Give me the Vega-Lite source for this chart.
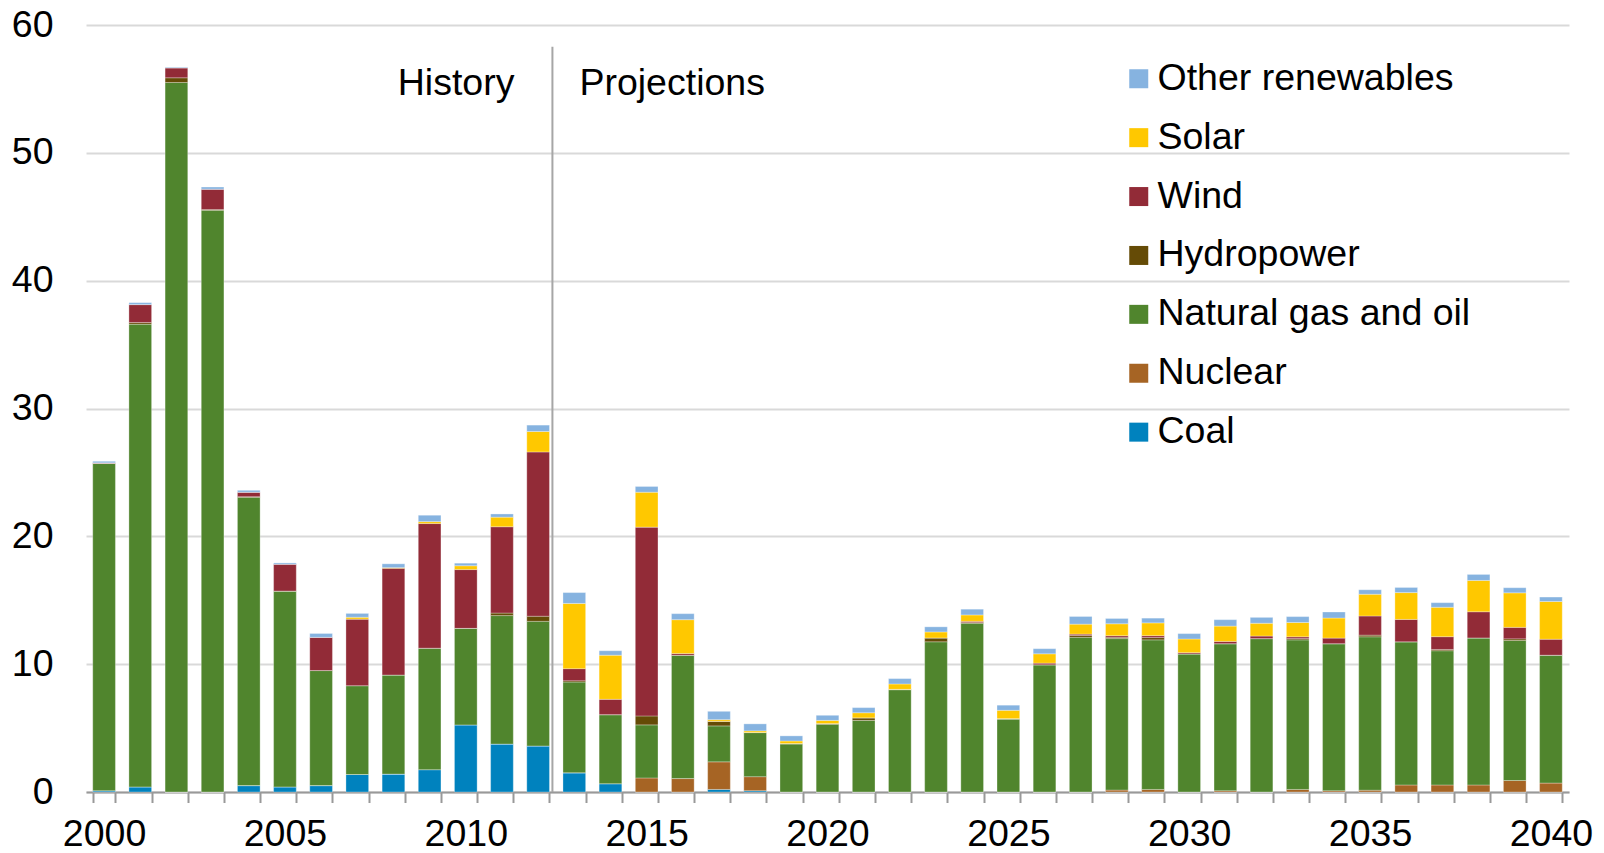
{
  "$schema": "https://vega.github.io/schema/vega-lite/v6.json",
  "width": 1483,
  "height": 767,
  "autosize": {"type": "none"},
  "padding": {"left": 86, "top": 25, "right": 35, "bottom": 61},
  "background": "#ffffff",
  "config": {
    "font": "Liberation Sans",
    "view": {"stroke": null},
    "axis": {"labelColor": "#000000", "labelFontSize": 37.5, "labelFont": "Liberation Sans"}
  },
  "datasets": {
    "gen": [
      {"year": 2000, "coal": 0.1, "nuclear": 0, "gas": 25.6, "hydro": 0, "wind": 0.05, "solar": 0, "other": 0.12},
      {"year": 2001, "coal": 0.4, "nuclear": 0, "gas": 36.2, "hydro": 0.13, "wind": 1.4, "solar": 0, "other": 0.15},
      {"year": 2002, "coal": 0, "nuclear": 0, "gas": 55.5, "hydro": 0.37, "wind": 0.78, "solar": 0, "other": 0.05},
      {"year": 2003, "coal": 0, "nuclear": 0, "gas": 45.5, "hydro": 0.06, "wind": 1.6, "solar": 0, "other": 0.16},
      {"year": 2004, "coal": 0.5, "nuclear": 0, "gas": 22.55, "hydro": 0.05, "wind": 0.35, "solar": 0, "other": 0.15},
      {"year": 2005, "coal": 0.4, "nuclear": 0, "gas": 15.3, "hydro": 0.02, "wind": 2.1, "solar": 0, "other": 0.1},
      {"year": 2006, "coal": 0.5, "nuclear": 0, "gas": 9.0, "hydro": 0, "wind": 2.6, "solar": 0, "other": 0.3},
      {"year": 2007, "coal": 1.37, "nuclear": 0, "gas": 6.95, "hydro": 0, "wind": 5.2, "solar": 0.15, "other": 0.3},
      {"year": 2008, "coal": 1.4, "nuclear": 0, "gas": 7.75, "hydro": 0, "wind": 8.35, "solar": 0.05, "other": 0.3},
      {"year": 2009, "coal": 1.75, "nuclear": 0, "gas": 9.5, "hydro": 0, "wind": 9.75, "solar": 0.15, "other": 0.5},
      {"year": 2010, "coal": 5.25, "nuclear": 0, "gas": 7.55, "hydro": 0, "wind": 4.6, "solar": 0.3, "other": 0.2},
      {"year": 2011, "coal": 3.75, "nuclear": 0, "gas": 10.05, "hydro": 0.2, "wind": 6.75, "solar": 0.75, "other": 0.25},
      {"year": 2012, "coal": 3.6, "nuclear": 0, "gas": 9.75, "hydro": 0.4, "wind": 12.85, "solar": 1.6, "other": 0.5},
      {"year": 2013, "coal": 1.5, "nuclear": 0, "gas": 7.1, "hydro": 0.1, "wind": 0.95, "solar": 5.1, "other": 0.85},
      {"year": 2014, "coal": 0.65, "nuclear": 0, "gas": 5.4, "hydro": 0, "wind": 1.2, "solar": 3.45, "other": 0.35},
      {"year": 2015, "coal": 0, "nuclear": 1.1, "gas": 4.15, "hydro": 0.7, "wind": 14.77, "solar": 2.73, "other": 0.45},
      {"year": 2016, "coal": 0, "nuclear": 1.05, "gas": 9.65, "hydro": 0, "wind": 0.13, "solar": 2.65, "other": 0.47},
      {"year": 2017, "coal": 0.2, "nuclear": 2.16, "gas": 2.81, "hydro": 0.36, "wind": 0, "solar": 0.13, "other": 0.65},
      {"year": 2018, "coal": 0.1, "nuclear": 1.1, "gas": 3.45, "hydro": 0, "wind": 0, "solar": 0.13, "other": 0.55},
      {"year": 2019, "coal": 0, "nuclear": 0, "gas": 3.75, "hydro": 0.04, "wind": 0, "solar": 0.2, "other": 0.4},
      {"year": 2020, "coal": 0, "nuclear": 0, "gas": 5.3, "hydro": 0.05, "wind": 0, "solar": 0.25, "other": 0.4},
      {"year": 2021, "coal": 0, "nuclear": 0, "gas": 5.6, "hydro": 0.2, "wind": 0, "solar": 0.4, "other": 0.4},
      {"year": 2022, "coal": 0, "nuclear": 0, "gas": 8.0, "hydro": 0.03, "wind": 0, "solar": 0.42, "other": 0.42},
      {"year": 2023, "coal": 0, "nuclear": 0, "gas": 11.75, "hydro": 0.3, "wind": 0, "solar": 0.47, "other": 0.4},
      {"year": 2024, "coal": 0, "nuclear": 0, "gas": 13.2, "hydro": 0.05, "wind": 0.1, "solar": 0.5, "other": 0.45},
      {"year": 2025, "coal": 0, "nuclear": 0, "gas": 5.7, "hydro": 0.04, "wind": 0, "solar": 0.65, "other": 0.4},
      {"year": 2026, "coal": 0, "nuclear": 0, "gas": 9.95, "hydro": 0, "wind": 0.13, "solar": 0.73, "other": 0.4},
      {"year": 2027, "coal": 0, "nuclear": 0, "gas": 12.1, "hydro": 0.15, "wind": 0.1, "solar": 0.78, "other": 0.6},
      {"year": 2028, "coal": 0, "nuclear": 0.15, "gas": 11.85, "hydro": 0.1, "wind": 0.13, "solar": 0.93, "other": 0.42},
      {"year": 2029, "coal": 0, "nuclear": 0.2, "gas": 11.7, "hydro": 0.18, "wind": 0.15, "solar": 1.0, "other": 0.37},
      {"year": 2030, "coal": 0, "nuclear": 0, "gas": 10.8, "hydro": 0, "wind": 0.1, "solar": 1.07, "other": 0.42},
      {"year": 2031, "coal": 0, "nuclear": 0.1, "gas": 11.5, "hydro": 0, "wind": 0.18, "solar": 1.2, "other": 0.5},
      {"year": 2032, "coal": 0, "nuclear": 0, "gas": 12.0, "hydro": 0, "wind": 0.2, "solar": 1.0, "other": 0.46},
      {"year": 2033, "coal": 0, "nuclear": 0.2, "gas": 11.7, "hydro": 0.1, "wind": 0.14, "solar": 1.12, "other": 0.46},
      {"year": 2034, "coal": 0, "nuclear": 0.1, "gas": 11.5, "hydro": 0, "wind": 0.44, "solar": 1.57, "other": 0.47},
      {"year": 2035, "coal": 0, "nuclear": 0.14, "gas": 12.0, "hydro": 0.13, "wind": 1.5, "solar": 1.7, "other": 0.35},
      {"year": 2036, "coal": 0, "nuclear": 0.55, "gas": 11.2, "hydro": 0, "wind": 1.75, "solar": 2.1, "other": 0.4},
      {"year": 2037, "coal": 0, "nuclear": 0.55, "gas": 10.5, "hydro": 0.1, "wind": 1.0, "solar": 2.3, "other": 0.36},
      {"year": 2038, "coal": 0, "nuclear": 0.55, "gas": 11.5, "hydro": 0, "wind": 2.05, "solar": 2.45, "other": 0.47},
      {"year": 2039, "coal": 0, "nuclear": 0.9, "gas": 10.95, "hydro": 0.13, "wind": 0.9, "solar": 2.7, "other": 0.4},
      {"year": 2040, "coal": 0, "nuclear": 0.7, "gas": 10.0, "hydro": 0, "wind": 1.25, "solar": 2.95, "other": 0.35}
    ],
    "cats": [
      {"key": "coal", "label": "Coal", "rank": 1},
      {"key": "nuclear", "label": "Nuclear", "rank": 2},
      {"key": "gas", "label": "Natural gas and oil", "rank": 3},
      {"key": "hydro", "label": "Hydropower", "rank": 4},
      {"key": "wind", "label": "Wind", "rank": 5},
      {"key": "solar", "label": "Solar", "rank": 6},
      {"key": "other", "label": "Other renewables", "rank": 7}
    ]
  },
  "layer": [
    {
      "data": {"name": "gen"},
      "transform": [
        {"fold": ["coal", "nuclear", "gas", "hydro", "wind", "solar", "other"], "as": ["key", "value"]},
        {"lookup": "key", "from": {"data": {"name": "cats"}, "key": "key", "fields": ["label", "rank"]}}
      ],
      "mark": {"type": "bar", "stroke": "#ffffff", "strokeWidth": 0.6, "strokeOpacity": 0.5},
      "encoding": {
        "x": {
          "field": "year",
          "type": "ordinal",
          "scale": {"paddingInner": 0.373, "paddingOuter": 0.1865},
          "axis": {
            "title": null,
            "labelAngle": 0,
            "labelExpr": "datum.value % 5 === 0 ? datum.label : ''",
            "labelOverlap": false,
            "labelPadding": 13,
            "tickBand": "extent",
            "tickSize": 10.5,
            "tickWidth": 2,
            "tickColor": "#999999",
            "domainColor": "#999999",
            "domainWidth": 2,
            "grid": false
          }
        },
        "y": {
          "field": "value",
          "type": "quantitative",
          "stack": "zero",
          "scale": {"domain": [0, 60], "nice": false},
          "axis": {
            "title": null,
            "values": [0, 10, 20, 30, 40, 50, 60],
            "domain": false,
            "ticks": false,
            "tickSize": 0,
            "labelPadding": 33,
            "grid": true,
            "gridColor": "#d9d9d9",
            "gridWidth": 2
          }
        },
        "color": {
          "field": "label",
          "type": "nominal",
          "scale": {
            "domain": ["Other renewables", "Solar", "Wind", "Hydropower", "Natural gas and oil", "Nuclear", "Coal"],
            "range": ["#86B3E0", "#FFC800", "#922B37", "#654B06", "#50852D", "#A66424", "#0082BE"]
          },
          "legend": {
            "title": null,
            "orient": "none",
            "legendX": 1034,
            "legendY": 35,
            "padding": 0,
            "symbolType": "square",
            "symbolSize": 361,
            "symbolStrokeWidth": 0,
            "labelFontSize": 37.5,
            "labelFont": "Liberation Sans",
            "labelColor": "#000000",
            "labelOffset": 0,
            "rowPadding": 19.9,
            "labelLimit": 500
          }
        },
        "order": {"field": "rank", "type": "quantitative", "sort": "ascending"}
      }
    },
    {
      "data": {"values": [{"year": 2012, "top": 58.3, "bottom": 0}]},
      "mark": {"type": "rule", "color": "#a6a6a6", "strokeWidth": 2},
      "encoding": {
        "x": {"field": "year", "type": "ordinal", "bandPosition": 1.13, "axis": {"title": null}},
        "y": {"field": "top", "type": "quantitative", "axis": {"title": null}},
        "y2": {"field": "bottom"}
      }
    },
    {
      "data": {"values": [{"year": 2012, "pos": 54.5, "note": "History"}]},
      "mark": {"type": "text", "align": "right", "baseline": "alphabetic", "fontSize": 37.5, "dx": -38, "color": "#000000"},
      "encoding": {
        "x": {"field": "year", "type": "ordinal", "bandPosition": 1.13, "axis": {"title": null}},
        "y": {"field": "pos", "type": "quantitative", "axis": {"title": null}},
        "text": {"field": "note"}
      }
    },
    {
      "data": {"values": [{"year": 2012, "pos": 54.5, "note": "Projections"}]},
      "mark": {"type": "text", "align": "left", "baseline": "alphabetic", "fontSize": 37.5, "dx": 27, "color": "#000000"},
      "encoding": {
        "x": {"field": "year", "type": "ordinal", "bandPosition": 1.13, "axis": {"title": null}},
        "y": {"field": "pos", "type": "quantitative", "axis": {"title": null}},
        "text": {"field": "note"}
      }
    }
  ]
}
